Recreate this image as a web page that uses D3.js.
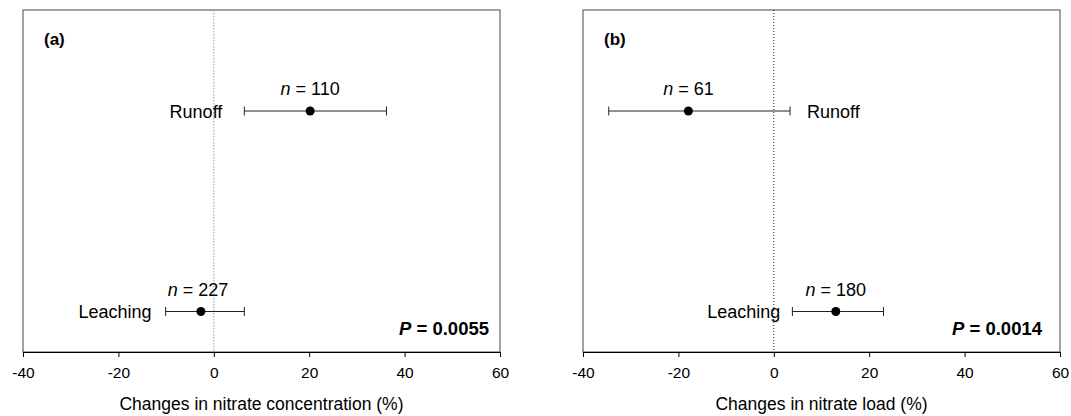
<!DOCTYPE html>
<html><head><meta charset="utf-8">
<script src="https://cdn.jsdelivr.net/npm/d3@7"></script>
<style>body{margin:0;background:#fff}svg text{font-family:"Liberation Sans",Arial,sans-serif;fill:#000}</style>
</head><body><svg id="c" width="1071" height="416"></svg>
<script>
const panels = ["(a)", "(b)"];
const categories = ["Runoff", "Leaching"];
const nCounts = [[110, 227], [61, 180]];
const means = [[20.2, -2.7], [-17.9, 13.0]];
const lower = [[6.4, -10.1], [-34.6, 3.9]];
const upper = [[36.2, 6.4], [3.4, 23.0]];
const pValues = ["0.0055", "0.0014"];
const xTitles = ["Changes in nitrate concentration (%)", "Changes in nitrate load (%)"];
const xTicks = [-40, -20, 0, 20, 40, 60];

// layout (styles, not data)
const labelSide = [["left", "left"], ["right", "left"]];
const labelGap = [[22, 14], [17, 12]];
const nShift = [[0, -3], [0, 0]];
const pRight = [11, 18];

const svg = d3.select("#c");
const boxes = [{x0: 23, x1: 500}, {x0: 583, x1: 1060}];
const plotTop = 10, plotBottom = 352;
const y = d3.scalePoint().domain(categories).range([111, 311.5]);

boxes.forEach((b, p) => {
  const g = svg.append("g");
  const x = d3.scaleLinear().domain([-40, 60]).range([b.x0, b.x1]);
  g.append("rect").attr("x", b.x0).attr("y", plotTop).attr("width", b.x1 - b.x0).attr("height", plotBottom - plotTop)
    .attr("fill", "none").attr("stroke", "#444").attr("stroke-width", 1);
  const ax = g.append("g").attr("transform", `translate(0,${plotBottom})`)
    .call(d3.axisBottom(x).tickValues(xTicks).tickSize(5).tickPadding(10).tickFormat(d => String(d)));
  ax.select(".domain").attr("stroke", "#000");
  ax.selectAll(".tick line").attr("stroke", "#000");
  ax.selectAll(".tick text").attr("font-size", 15.5).style("font-family", '"Liberation Sans",Arial,sans-serif');
  g.append("line").attr("x1", x(0)).attr("x2", x(0)).attr("y1", plotTop).attr("y2", plotBottom)
    .attr("stroke", p === 0 ? "#999" : "#222").attr("stroke-width", 1).attr("stroke-dasharray", p === 0 ? "1.5,1.5" : "1,2");
  g.append("text").attr("x", b.x0 + 21).attr("y", 44.5).attr("font-size", 17).attr("font-weight", "bold").text(panels[p]);
  g.append("text").attr("x", (b.x0 + b.x1) / 2).attr("y", 410).attr("text-anchor", "middle").attr("font-size", 17.5).text(xTitles[p]);
  const pt = g.append("text").attr("x", b.x1 - pRight[p]).attr("y", 335).attr("text-anchor", "end").attr("font-size", 18.5).attr("font-weight", "bold");
  pt.append("tspan").attr("font-style", "italic").text("P");
  pt.append("tspan").text(" = " + pValues[p]);

  categories.forEach((c, i) => {
    const yy = y(c);
    const lo = x(lower[p][i]), hi = x(upper[p][i]), m = x(means[p][i]);
    const col = "#222";
    g.append("line").attr("x1", lo).attr("x2", hi).attr("y1", yy).attr("y2", yy).attr("stroke", col);
    [lo, hi].forEach(v => g.append("line").attr("x1", v).attr("x2", v).attr("y1", yy - 4.5).attr("y2", yy + 4.5).attr("stroke", col));
    g.append("circle").attr("cx", m).attr("cy", yy).attr("r", 4.5).attr("fill", "#000");
    const nt = g.append("text").attr("x", m + nShift[p][i]).attr("y", yy - 16).attr("text-anchor", "middle").attr("font-size", 18);
    nt.append("tspan").attr("font-style", "italic").text("n");
    nt.append("tspan").text(" = " + nCounts[p][i]);
    const side = labelSide[p][i];
    g.append("text").attr("x", side === "left" ? lo - labelGap[p][i] : hi + labelGap[p][i]).attr("y", yy + 6.5)
      .attr("text-anchor", side === "left" ? "end" : "start").attr("font-size", 18).text(c);
  });
});
</script></body></html>
